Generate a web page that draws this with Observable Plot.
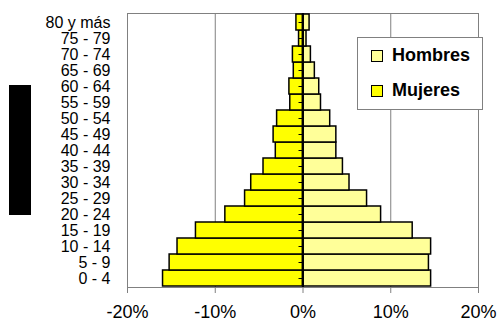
<!DOCTYPE html>
<html>
<head>
<meta charset="utf-8">
<script src="https://cdn.jsdelivr.net/npm/d3@7"></script>
<script src="https://cdn.jsdelivr.net/npm/@observablehq/plot@0.6"></script>
<style>
  html, body { margin: 0; padding: 0; background: white; }
  #wrap { position: relative; width: 500px; height: 322px; overflow: hidden; }
  #blk { position: absolute; left: 9px; top: 85px; width: 22px; height: 130px; background: #000; }
  #legend { position: absolute; left: 357px; top: 37px; width: 124px; height: 71px; background: white;
    border: 1px solid #808080; font-family: 'Liberation Sans', Arial, sans-serif; font-weight: bold; font-size: 18px; }
  .item { position: absolute; left: 13px; display: flex; align-items: center; }
  .sw { width: 10px; height: 10px; border: 1.5px solid #000; margin-right: 9px; }
</style>
</head>
<body>
<div id="wrap">
  <div id="chart"></div>
  <div id="blk"></div>
  <div id="legend"></div>
</div>
<script>
const ages = ["0 - 4","5 - 9","10 - 14","15 - 19","20 - 24","25 - 29","30 - 34","35 - 39","40 - 44","45 - 49","50 - 54","55 - 59","60 - 64","65 - 69","70 - 74","75 - 79","80 y más"];
const mujeres = [15.95,15.2,14.3,12.2,8.85,6.6,5.9,4.5,3.1,3.35,2.95,1.45,1.55,1.05,1.15,0.45,0.75];
const hombres = [14.6,14.35,14.6,12.5,8.9,7.3,5.3,4.55,3.8,3.8,3.1,2.05,1.85,1.35,0.9,0.4,0.75];
const series = ["Hombres", "Mujeres"];
const colors = ["#FFFF99", "#FFFF00"];
const xTicks = [-20, -10, 0, 10, 20];
const gridTicks = [-10, 10];

const rows = [];
ages.forEach((a, i) => {
  rows.push({age: a, sex: "Mujeres", value: -mujeres[i]});
  rows.push({age: a, sex: "Hombres", value: hombres[i]});
});

const chart = Plot.plot({
  width: 500,
  height: 322,
  marginLeft: 127,
  marginRight: 22,
  marginTop: 13,
  marginBottom: 35,
  style: {fontFamily: "'Liberation Sans', Arial, sans-serif", fontSize: "17px", background: "white", color: "black"},
  x: {domain: [-20, 20], label: null},
  y: {domain: ages.slice().reverse(), padding: 0, label: null},
  color: {domain: series, range: colors},
  marks: [
    Plot.ruleX(gridTicks, {stroke: "#808080", strokeWidth: 1}),
    Plot.frame({stroke: "#808080", strokeWidth: 1}),
    Plot.barX(rows, {y: "age", x1: 0, x2: "value", fill: "sex", stroke: "black", strokeWidth: 1.5}),
    Plot.ruleX([0], {stroke: "black", strokeWidth: 2}),
    Plot.ruleY(ages, {y: d => d, x1: 0, x2: 0, insetLeft: -4, stroke: "black", strokeWidth: 1}),
    Plot.axisX({ticks: xTicks, tickFormat: d => d + "%", tickSize: 6, tickPadding: 12, stroke: "#808080", fontSize: 18, label: null}),
    Plot.axisY({tickSize: 0, tickPadding: 17, fontSize: 16, label: null})
  ]
});
document.getElementById("chart").appendChild(chart);

const leg = document.getElementById("legend");
series.forEach((s, i) => {
  const it = document.createElement("div");
  it.className = "item";
  it.style.top = (i === 0 ? 7 : 42) + "px";
  const sw = document.createElement("div");
  sw.className = "sw";
  sw.style.background = colors[i];
  const t = document.createElement("span");
  t.textContent = s;
  it.appendChild(sw);
  it.appendChild(t);
  leg.appendChild(it);
});
</script>
</body>
</html>
